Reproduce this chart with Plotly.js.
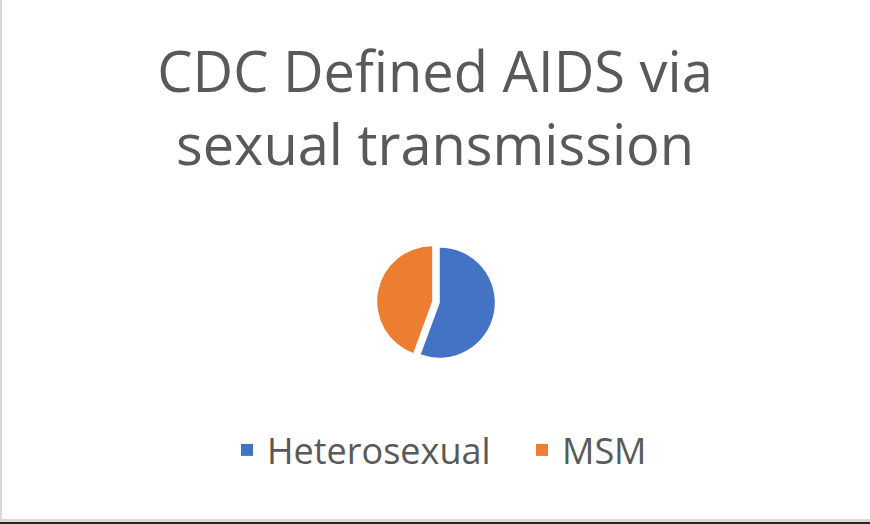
<!DOCTYPE html>
<html>
<head>
<meta charset="utf-8">
<script src="https://cdn.plot.ly/plotly-3.0.1.min.js"></script>
<style>
html,body{margin:0;padding:0;background:#fff;}
#wrap{width:868px;height:519px;border-left:2px solid #d9d9d9;border-bottom:3px solid #d9d9d9;position:relative;}
#bar{width:870px;height:2px;background:#262626;}
#chart{width:868px;height:519px;}
</style>
</head>
<body>
<div id="wrap"><div id="chart"></div></div>
<div id="bar"></div>
<script>
const categories = ["Heterosexual", "MSM"];
const shares = [55.6, 44.4];
const pulls = [0.07, 0.07];
const colors = ["#4472C4", "#ED7D31"];
const titleText = "CDC Defined AIDS via<br>sexual transmission";

const W = 868, H = 519;
const cx = 434, cy = 302, r = 55 * 1.07;

const data = [{
  type: "pie",
  labels: categories,
  values: shares,
  sort: false,
  direction: "clockwise",
  rotation: 0,
  pull: pulls,
  textinfo: "none",
  hoverinfo: "label+percent",
  marker: {colors: colors, line: {width: 0}},
  domain: {x: [(cx - r) / W, (cx + r) / W], y: [(H - cy - r) / H, (H - cy + r) / H]}
}];

const layout = {
  width: W, height: H,
  margin: {l: 0, r: 0, t: 0, b: 0},
  paper_bgcolor: "#ffffff",
  font: {family: "Open Sans, sans-serif", color: "#595959"},
  title: {
    text: titleText,
    font: {family: "Open Sans, sans-serif", size: 56, color: "#595959"},
    x: 433 / W, xanchor: "center",
    y: 1 - 92 / H, yanchor: "top",
    yref: "container"
  },
  showlegend: true,
  legend: {
    orientation: "h",
    x: 520 / W, xanchor: "center",
    y: 1 - 420 / H, yanchor: "top",
    font: {family: "Open Sans, sans-serif", size: 36, color: "#595959"},
    itemwidth: 30,
    entrywidth: 250
  }
};

Plotly.newPlot("chart", data, layout, {displayModeBar: false, staticPlot: true});
</script>
</body>
</html>
